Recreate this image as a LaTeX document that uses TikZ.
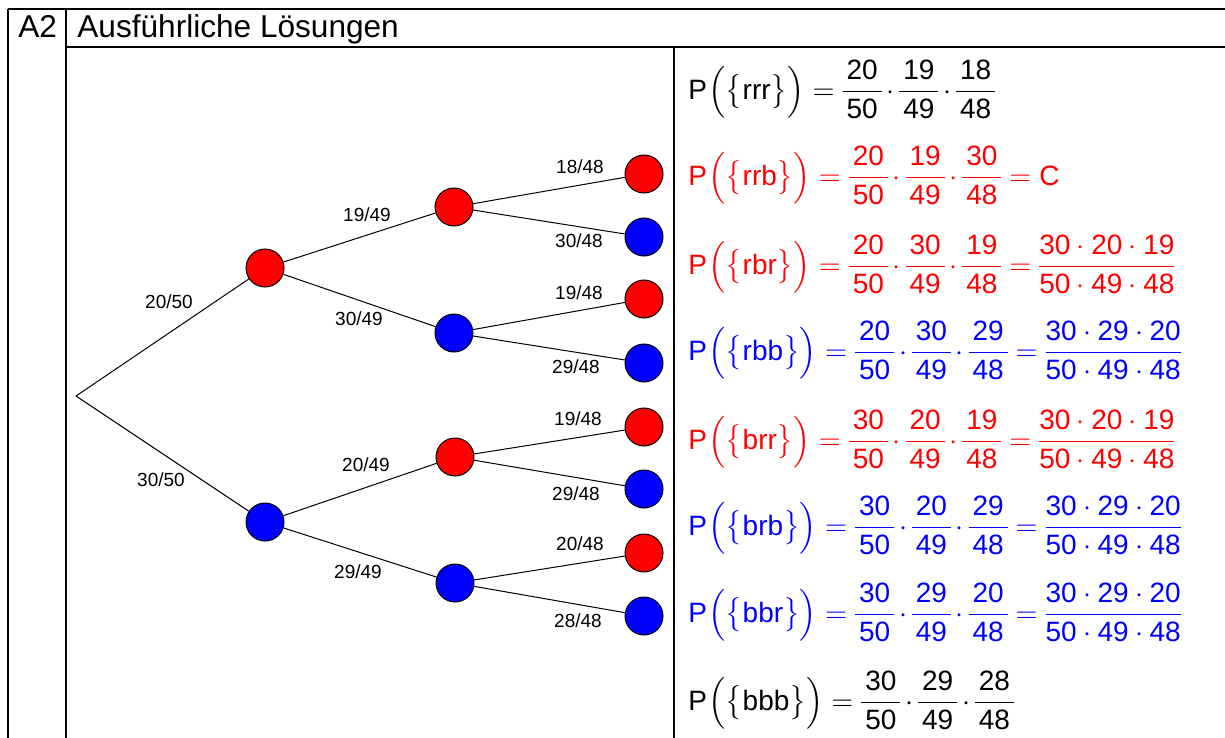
\documentclass[tikz,border=0pt]{standalone}
\usepackage{amsmath}
\usepackage{fontspec}
\setmainfont{Liberation Sans}
\setlength\nulldelimiterspace{0pt}
\newcommand\myfr[2]{\dfrac{\kern2pt\text{#1}\kern2pt}{\kern2pt\text{#2}\kern2pt}}
\newcommand\myP[1]{\text{P}\mskip1mu\Bigl(\bigl\{\text{#1}\bigr\}\Bigr)}
\newcommand\md{\mskip3mu\mathord{\cdot}\mskip3mu}
\newcommand\mybigfr[6]{\dfrac{\text{#1}\cdot\text{#2}\cdot\text{#3}}{\text{#4}\cdot\text{#5}\cdot\text{#6}}}
\begin{document}
\begin{tikzpicture}[x=0.5pt,y=-0.5pt,
  tline/.style={line width=1pt},
  ball/.style={circle, draw=black, line width=0.5pt, minimum size=19pt, inner sep=0pt},
  rball/.style={ball, fill=red},
  bball/.style={ball, fill=blue},
  edge/.style={line width=0.5pt},
  plab/.style={font=\fontsize{9.5}{11}\selectfont, inner sep=0pt},
  formula/.style={anchor=base west, inner sep=0pt, font=\fontsize{14}{17}\selectfont},
  head/.style={anchor=base west, inner sep=0pt, font=\fontsize{15.8}{19}\selectfont}]
\useasboundingbox (0,0) rectangle (1225,738);
% table
\draw[tline] (7.5,9) -- (1225,9);
\draw[tline] (7.5,9) -- (7.5,738);
\draw[tline] (66,9) -- (66,738);
\draw[tline] (66,47.5) -- (1225,47.5);
\draw[tline] (673.5,47.5) -- (673.5,738);
% header
\node[head] (a2) at (18,38) {A2};
\node[head] (title) at (77,38) {Ausführliche Lösungen};
% tree
\coordinate (root) at (76,396);
\node[rball] (r) at (265,268) {};
\node[bball] (b) at (265,522) {};
\node[rball] (rr) at (454,207) {};
\node[bball] (rb) at (454,333) {};
\node[rball] (br) at (455,457) {};
\node[bball] (bb) at (455,583) {};
\node[rball] (rrr) at (644,174) {};
\node[bball] (rrb) at (644,237) {};
\node[rball] (rbr) at (644,299) {};
\node[bball] (rbb) at (644,363) {};
\node[rball] (brr) at (644,427) {};
\node[bball] (brb) at (644,489) {};
\node[rball] (bbr) at (644,553) {};
\node[bball] (bbb) at (644,616) {};
\draw[edge] (root) -- (r);
\draw[edge] (root) -- (b);
\draw[edge] (r) -- (rr);
\draw[edge] (r) -- (rb);
\draw[edge] (b) -- (br);
\draw[edge] (b) -- (bb);
\draw[edge] (rr) -- (rrr);
\draw[edge] (rr) -- (rrb);
\draw[edge] (rb) -- (rbr);
\draw[edge] (rb) -- (rbb);
\draw[edge] (br) -- (brr);
\draw[edge] (br) -- (brb);
\draw[edge] (bb) -- (bbr);
\draw[edge] (bb) -- (bbb);
% labels
\node[plab] (l1) at (169,302) {20/50};
\node[plab] (l2) at (161,480) {30/50};
\node[plab] (l3) at (367,215) {19/49};
\node[plab] (l4) at (359,319) {30/49};
\node[plab] (l5) at (366,465) {20/49};
\node[plab] (l6) at (358,572) {29/49};
\node[plab] (l7) at (580,167) {18/48};
\node[plab] (l8) at (579,241) {30/48};
\node[plab] (l9) at (579,293) {19/48};
\node[plab] (l10) at (576,367) {29/48};
\node[plab] (l11) at (578,419) {19/48};
\node[plab] (l12) at (576,494) {29/48};
\node[plab] (l13) at (580,544) {20/48};
\node[plab] (l14) at (578,621) {28/48};
% formulas
\node[formula] (f1) at (688,99) {$\myP{rrr}=\myfr{20}{50}\md\myfr{19}{49}\md\myfr{18}{48}$};
\node[formula, text=red] (f2) at (688,185) {$\myP{rrb}=\myfr{20}{50}\md\myfr{19}{49}\md\myfr{30}{48}=\text{C}$};
\node[formula, text=red] (f3) at (688,274) {$\myP{rbr}=\myfr{20}{50}\md\myfr{30}{49}\md\myfr{19}{48}=\mybigfr{30}{20}{19}{50}{49}{48}$};
\node[formula, text=blue] (f4) at (688,360) {$\myP{rbb}=\myfr{20}{50}\md\myfr{30}{49}\md\myfr{29}{48}=\mybigfr{30}{29}{20}{50}{49}{48}$};
\node[formula, text=red] (f5) at (688,449) {$\myP{brr}=\myfr{30}{50}\md\myfr{20}{49}\md\myfr{19}{48}=\mybigfr{30}{20}{19}{50}{49}{48}$};
\node[formula, text=blue] (f6) at (688,535) {$\myP{brb}=\myfr{30}{50}\md\myfr{20}{49}\md\myfr{29}{48}=\mybigfr{30}{29}{20}{50}{49}{48}$};
\node[formula, text=blue] (f7) at (688,622) {$\myP{bbr}=\myfr{30}{50}\md\myfr{29}{49}\md\myfr{20}{48}=\mybigfr{30}{29}{20}{50}{49}{48}$};
\node[formula] (f8) at (688,710) {$\myP{bbb}=\myfr{30}{50}\md\myfr{29}{49}\md\myfr{28}{48}$};
\end{tikzpicture}
\end{document}
